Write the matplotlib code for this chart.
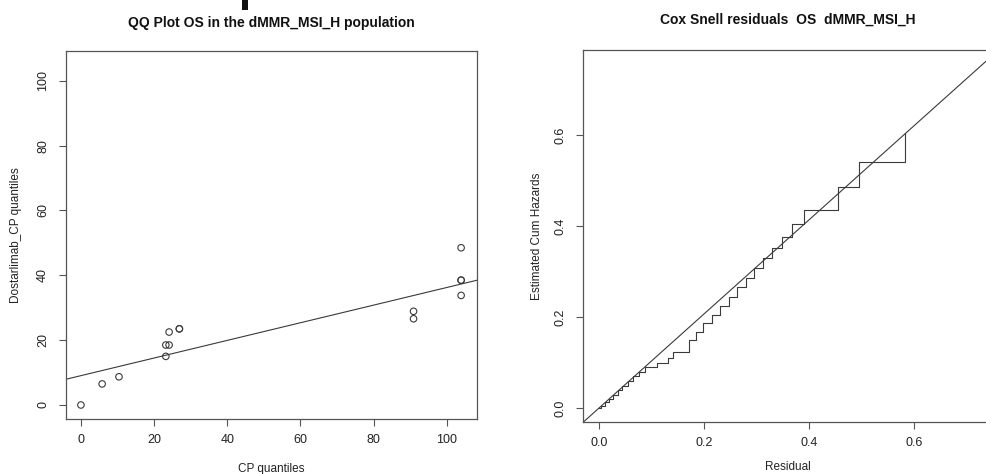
import matplotlib
matplotlib.use('Agg')
import matplotlib.pyplot as plt
from matplotlib.patches import Rectangle

plt.rcParams['font.family'] = ['Liberation Sans', 'DejaVu Sans']

# ---- data: QQ plot ----
cp_quantiles = [0, 5.8, 10.4, 23.2, 23.2, 24.1, 24.1, 26.9, 26.9, 90.9, 90.9,
                103.9, 103.9, 103.9, 103.9]
dostarlimab_quantiles = [0, 6.5, 8.7, 15.0, 18.5, 18.5, 22.5, 23.5, 23.5, 26.6,
                         28.9, 33.8, 38.5, 38.5, 48.5]
fit_intercept = 9.05
fit_slope = 0.272
qq_xticks = [0, 20, 40, 60, 80, 100]
qq_yticks = [0, 20, 40, 60, 80, 100]

# ---- data: Cox-Snell residuals ----
residual = [0.0, 0.005, 0.012, 0.020, 0.028, 0.036, 0.045, 0.055, 0.065, 0.077,
            0.089, 0.110, 0.131, 0.142, 0.171, 0.185, 0.199, 0.215, 0.231,
            0.247, 0.263, 0.280, 0.296, 0.312, 0.329, 0.348, 0.367, 0.391,
            0.455, 0.495, 0.583]
cum_hazard = [0.0, 0.006, 0.013, 0.021, 0.030, 0.040, 0.050, 0.060, 0.070, 0.080,
              0.0915, 0.100, 0.111, 0.123, 0.150, 0.168, 0.187, 0.205, 0.225,
              0.245, 0.266, 0.286, 0.308, 0.330, 0.352, 0.376, 0.404, 0.436,
              0.487, 0.542, 0.604]
ref_intercept = 0.0
ref_slope = 1.035
cs_xticks = [0.0, 0.2, 0.4, 0.6]
cs_yticks = [0.0, 0.2, 0.4, 0.6]

W, H = 986, 474
fig = plt.figure(figsize=(W / 100, H / 100), dpi=100)

line_col = '#3a3a3a'
box_col = '#555555'
txt_col = '#222222'

# fragment of a cut-off heading glyph at the top edge
fig.patches.append(Rectangle((242 / W, 1 - 10 / H), 6 / W, 10 / H,
                             transform=fig.transFigure, color='#111111', lw=0))


def style(ax):
    for s in ax.spines.values():
        s.set_color(box_col)
        s.set_linewidth(0.9)
    ax.tick_params(direction='out', length=5, width=0.8, color=box_col,
                   labelsize=9, labelcolor=txt_col)
    ax.tick_params(axis='x', pad=6)
    ax.tick_params(axis='y', pad=7)
    for lab in ax.get_yticklabels():
        lab.set_rotation(90)
        lab.set_va('center')


# left panel
ax1 = fig.add_axes([65.7 / W, 1 - 418.6 / H, 411 / W, (418.6 - 51) / H])
ax1.scatter(cp_quantiles, dostarlimab_quantiles, s=22, facecolors='none',
            edgecolors=line_col, linewidths=0.8, zorder=3)
ax1.axline((0, fit_intercept), slope=fit_slope, color=line_col, lw=0.8)
ax1.set_xlim(-4.16, 108.16)
ax1.set_ylim(-4.2, 109.2)
ax1.set_xticks(qq_xticks)
ax1.set_yticks(qq_yticks)
style(ax1)
ax1.set_xlabel('CP quantiles', fontsize=8.5, color=txt_col, labelpad=12)
ax1.set_ylabel('Dostarlimab_CP quantiles', fontsize=8.5, color=txt_col, labelpad=11)
ax1.set_title('QQ Plot OS in the dMMR_MSI_H population', fontsize=10,
              fontweight='bold', color='#111111', pad=17)

# right panel
ax2 = fig.add_axes([582.7 / W, 1 - 421.7 / H, 411 / W, (421.7 - 50) / H])
ax2.step(residual, cum_hazard, where='post', color=line_col, lw=0.8)
ax2.axline((0, ref_intercept), slope=ref_slope, color=line_col, lw=0.8)
ax2.set_xlim(-0.0305, 0.7516)
ax2.set_ylim(-0.0295, 0.7875)
ax2.set_xticks(cs_xticks)
ax2.set_yticks(cs_yticks)
ax2.set_xticklabels([f'{v:.1f}' for v in cs_xticks])
ax2.set_yticklabels([f'{v:.1f}' for v in cs_yticks])
style(ax2)
ax2.set_xlabel('Residual', fontsize=8.5, color=txt_col, labelpad=9)
ax2.set_ylabel('Estimated Cum Hazards', fontsize=8.5, color=txt_col, labelpad=8)
ax2.set_title('Cox Snell residuals  OS  dMMR_MSI_H', fontsize=10,
              fontweight='bold', color='#111111', pad=19)

fig.savefig('out.png', dpi=100)
